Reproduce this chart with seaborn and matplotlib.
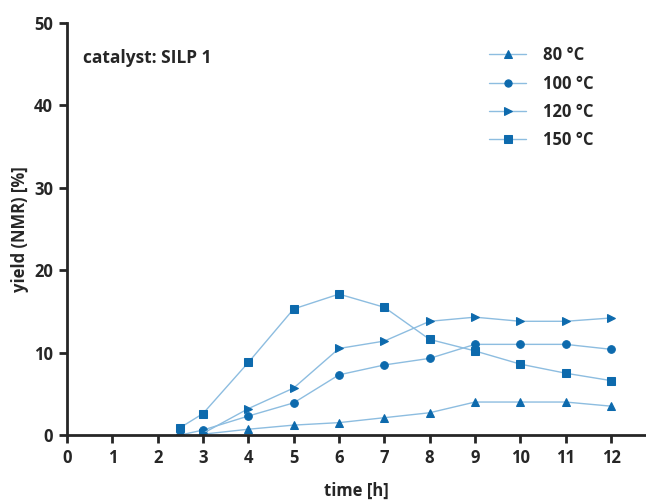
import matplotlib
matplotlib.use("Agg")
import matplotlib.pyplot as plt
import seaborn as sns
import pandas as pd

sns.set_style("ticks")
plt.rcParams['font.family'] = ['Open Sans', 'DejaVu Sans']
plt.rcParams['font.weight'] = 'bold'

t_80 = [3, 4, 5, 6, 7, 8, 9, 10, 11, 12]
y_80 = [0.1, 0.7, 1.2, 1.5, 2.1, 2.7, 4.0, 4.0, 4.0, 3.5]
t_100 = [2.5, 3, 4, 5, 6, 7, 8, 9, 10, 11, 12]
y_100 = [0.0, 0.6, 2.3, 3.9, 7.3, 8.5, 9.3, 11.0, 11.0, 11.0, 10.4]
t_120 = [3, 4, 5, 6, 7, 8, 9, 10, 11, 12]
y_120 = [0.2, 3.2, 5.7, 10.5, 11.4, 13.8, 14.3, 13.8, 13.8, 14.2]
t_150 = [2.5, 3, 4, 5, 6, 7, 8, 9, 10, 11, 12]
y_150 = [0.9, 2.6, 8.8, 15.3, 17.1, 15.5, 11.6, 10.2, 8.6, 7.5, 6.6]

series = [("80 °C", t_80, y_80, "^"),
          ("100 °C", t_100, y_100, "o"),
          ("120 °C", t_120, y_120, ">"),
          ("150 °C", t_150, y_150, "s")]

line_c = "#8dbde0"
mark_c = "#0d6aad"

fig = plt.figure(figsize=(6.46, 5.03), dpi=100)
ax = fig.add_axes([67/646, (503-435)/503, (645-67)/646, (435-23)/503])

for name, t, y, m in series:
    df = pd.DataFrame({"t": t, "y": y})
    sns.lineplot(data=df, x="t", y="y", ax=ax, color=line_c, lw=1.0,
                 marker=m, markersize=5.5, markerfacecolor=mark_c,
                 markeredgecolor=mark_c, label=name)

ax.set_xlim(0, 12.75)
ax.set_ylim(0, 50)
ax.set_xticks(range(0, 13))
ax.set_yticks(range(0, 51, 10))
for s in ["top", "right"]:
    ax.spines[s].set_visible(False)
for s in ["left", "bottom"]:
    ax.spines[s].set_linewidth(2)
ax.tick_params(direction="out", length=6, width=2, labelsize=12, pad=4)
for lab in ax.get_xticklabels() + ax.get_yticklabels():
    lab.set_fontweight("bold")
ax.set_xlabel("time [h]", fontsize=12, fontweight="bold", labelpad=11)
ax.set_ylabel("yield (NMR) [%]", fontsize=12, fontweight="bold", labelpad=4)

ax.text(0.027, 0.914, "catalyst: SILP 1", transform=ax.transAxes,
        fontsize=12.5, fontweight="bold", va="center")

leg = ax.legend(loc="upper left", bbox_to_anchor=(0.705, 0.98), frameon=False,
                fontsize=12, handlelength=2.2, labelspacing=0.62, handletextpad=1.0,
                markerscale=0.95)
for txt in leg.get_texts():
    txt.set_fontweight("bold")

fig.savefig("out.png", dpi=100)
